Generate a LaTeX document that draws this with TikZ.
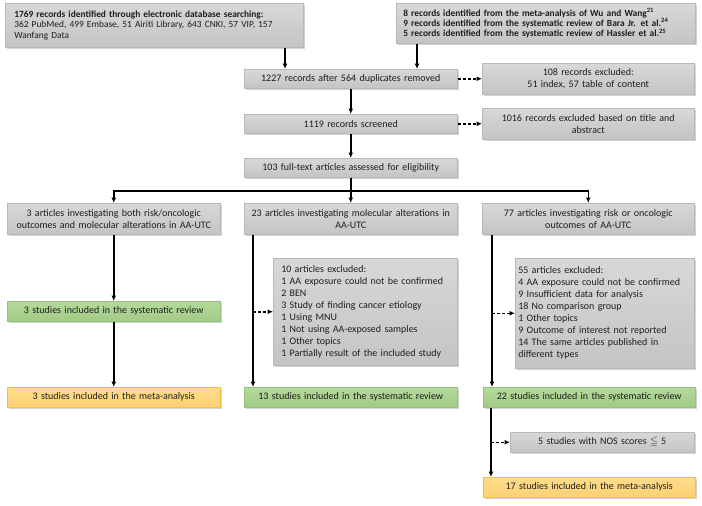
\documentclass[tikz,border=0pt]{standalone}
\usepackage{fontspec}
\setmainfont{Carlito}
\usepackage{amssymb}
\usetikzlibrary{shadows,arrows.meta,calc}
\definecolor{gtop}{HTML}{D8D8D8}
\definecolor{gbot}{HTML}{C4C4C4}
\definecolor{gline}{HTML}{B8B8B8}
\definecolor{grtop}{HTML}{B4D99C}
\definecolor{grbot}{HTML}{A2CB85}
\definecolor{grline}{HTML}{93C47D}
\definecolor{ytop}{HTML}{FEDC8C}
\definecolor{ybot}{HTML}{FCD172}
\definecolor{yline}{HTML}{F3BF45}
\definecolor{txt}{HTML}{1E1E1E}
\tikzset{
 box/.style={anchor=north west, inner ysep=0pt, font=\fontsize{10}{12}\selectfont, text=txt, line width=0.5pt,
   drop shadow={shadow xshift=1.6pt, shadow yshift=-2.2pt, opacity=0.35}},
 graybox/.style={box, draw=gline, top color=gtop, bottom color=gbot},
 greenbox/.style={box, draw=grline, top color=grtop, bottom color=grbot},
 yellowbox/.style={box, draw=yline, top color=ytop, bottom color=ybot},
 ctr/.style={align=center, inner xsep=3pt},
 topfont/.style={font=\fontsize{9.4}{10.3}\selectfont},
 arr/.style={line width=1.5pt, -{Latex[length=5.5pt,width=5pt]}},
 darr/.style={arr, dash pattern=on 3pt off 2pt},
}
\begin{document}
\begin{tikzpicture}[x=1pt,y=-1pt]
\useasboundingbox (0,0) rectangle (702,506);
% top row
\node[graybox, topfont, align=left, inner xsep=9pt, text width=280pt, minimum height=44pt] (tl) at (5,3)
 {\textbf{1769 records identified through electronic database searching:}\\362 PubMed, 499 Embase, 51 Airiti Library, 643 CNKI, 57 VIP, 157\\Wanfang Data};
\node[graybox, topfont, align=left, inner xsep=7pt, text width=285pt, minimum height=40pt] (tr) at (396,3)
 {\bfseries 8 records identified from the meta-analysis of Wu and Wang\textsuperscript{21}\\9 records identified from the systematic review of Bara Jr. et al.\textsuperscript{24}\\5 records identified from the systematic review of Hassler et al.\textsuperscript{25}};
% screening
\node[graybox, ctr, text width=207pt, minimum height=19pt] (dup) at (244,69) {1227 records after 564 duplicates removed};
\node[graybox, ctr, text width=206pt, minimum height=31pt] (ex1) at (482,63) {108 records excluded:\\51 index, 57 table of content};
\node[graybox, ctr, text width=207pt, minimum height=19pt] (scr) at (244,114) {1119 records screened};
\node[graybox, ctr, text width=206pt, minimum height=31pt] (ex2) at (482,108) {1016 records excluded based on title and\\abstract};
\node[graybox, ctr, text width=207pt, minimum height=19pt] (full) at (244,158) {103 full-text articles assessed for eligibility};
% branches
\node[graybox, ctr, text width=207pt, minimum height=31pt] (L) at (7,203) {3 articles investigating both risk/oncologic\\outcomes and molecular alterations in AA-UTC};
\node[graybox, ctr, text width=207pt, minimum height=31pt] (M) at (244,203) {23 articles investigating molecular alterations in\\AA-UTC};
\node[graybox, ctr, text width=206pt, minimum height=31pt] (R) at (482,203) {77 articles investigating risk or oncologic\\outcomes of AA-UTC};
% left column
\node[greenbox, ctr, text width=207pt, minimum height=20pt] (Lsr) at (7,301) {3 studies included in the systematic review};
\node[yellowbox, ctr, text width=207pt, minimum height=20pt] (Lma) at (7,387) {3 studies included in the meta-analysis};
% middle column
\node[graybox, align=left, inner xsep=8pt, text width=168pt, minimum height=107pt] (Mex) at (273,258)
 {10 articles excluded:\\1 AA exposure could not be confirmed\\2 BEN\\3 Study of finding cancer etiology\\1 Using MNU\\1 Not using AA-exposed samples\\1 Other topics\\1 Partially result of the included study};
\node[greenbox, ctr, text width=207pt, minimum height=20pt] (Msr) at (244,387) {13 studies included in the systematic review};
% right column
\node[graybox, align=left, inner xsep=3pt, text width=173pt, minimum height=110pt] (Rex) at (515,258)
 {55 articles excluded:\\4 AA exposure could not be confirmed\\9 Insufficient data for analysis\\18 No comparison group\\1 Other topics\\9 Outcome of interest not reported\\14 The same articles published in\\different types};
\node[greenbox, ctr, text width=206pt, minimum height=20pt] (Rsr) at (483,387) {22 studies included in the systematic review};
\node[graybox, ctr, text width=178pt, minimum height=20pt] (nos) at (510,432) {5 studies with NOS scores $\leqq$ 5};
\node[yellowbox, ctr, text width=206pt, minimum height=20pt] (Rma) at (483,477) {17 studies included in the meta-analysis};
% helper coordinates
\coordinate (a1) at (285,0);
\coordinate (a2) at (417,0);
\coordinate (hy) at (0,191);
\coordinate (mx) at (253,0);
\coordinate (rx) at (492,0);
\coordinate (rx2) at (491,0);
% connectors
\draw[arr] (tl.south -| a1) -- (dup.north -| a1);
\draw[arr] (tr.south -| a2) -- (dup.north -| a2);
\draw[darr] (dup.east) -- (ex1.west |- dup.east);
\draw[arr] (dup) -- (scr);
\draw[darr] (scr.east) -- (ex2.west |- scr.east);
\draw[arr] (scr) -- (full);
\draw[arr] (full.south) -- (M.north);
\draw[arr] (full.south) -- (full.south |- hy) -| (L.north);
\draw[arr] (full.south) -- (full.south |- hy) -| (R.north);
\draw[arr] (L) -- (Lsr);
\draw[arr] (Lsr) -- (Lma);
\draw[arr] (M.south -| mx) -- (Msr.north -| mx);
\draw[darr] (mx |- Mex.west) -- (Mex.west);
\draw[arr] (R.south -| rx) -- (Rsr.north -| rx);
\draw[darr] (rx |- Rex.west) -- (Rex.west);
\draw[arr] (Rsr.south -| rx2) -- (Rma.north -| rx2);
\draw[darr] (rx2 |- nos.west) -- (nos.west);
\end{tikzpicture}
\end{document}
